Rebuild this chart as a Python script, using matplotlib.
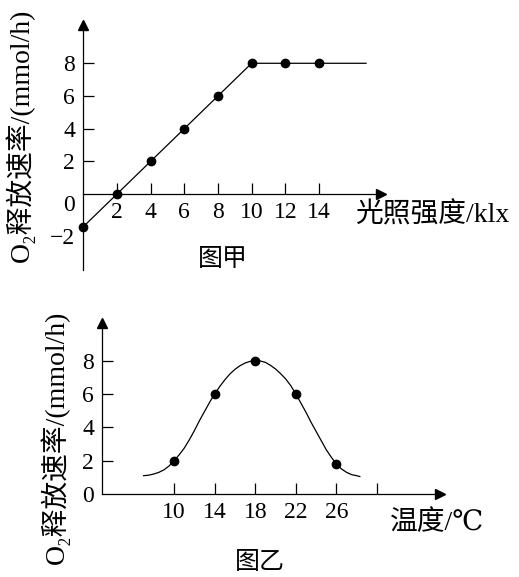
import matplotlib
matplotlib.use('Agg')
import matplotlib.pyplot as plt
from matplotlib.transforms import ScaledTranslation

plt.rcParams['font.family'] = ['Liberation Serif', 'DejaVu Serif', 'Noto Sans CJK SC']

# 图甲 数据
light = [0, 2, 4, 6, 8, 10, 12, 14]
o2_light = [-2, 0, 2, 4, 6, 8, 8, 8]
light_end = 16.8          # 平台线延伸到的位置
light_xticks = [2, 4, 6, 8, 10, 12, 14]
light_yticks = [-2, 0, 2, 4, 6, 8]
light_ylabels = ['\u22122', '0', '2', '4', '6', '8']

# 图乙 数据
temp = [10, 14, 18, 22, 26]
o2_temp = [2, 6, 8, 6, 1.8]
curve_x = [7, 7.5, 8, 8.5, 9, 9.5, 10, 10.5, 11, 11.5, 12, 12.5, 13, 13.5, 14, 14.5, 15, 15.5, 16, 16.5,
           17, 17.5, 18, 18.5, 19, 19.5, 20, 20.5, 21, 21.5, 22, 22.5, 23, 23.5, 24, 24.5, 25, 25.5,
           26, 26.5, 27, 27.5, 28, 28.3]
curve_y = [1.1, 1.13, 1.2, 1.3, 1.45, 1.68, 2.0, 2.35, 2.75, 3.25, 3.8, 4.4, 4.95, 5.5, 6.0, 6.45, 6.85, 7.2,
           7.48, 7.7, 7.86, 7.96, 8.0, 7.98, 7.9, 7.72, 7.5, 7.22, 6.9, 6.5, 6.0, 5.45, 4.9, 4.3, 3.75,
           3.2, 2.65, 2.2, 1.8, 1.5, 1.3, 1.16, 1.1, 1.05]
temp_xticks = [10, 14, 18, 22, 26, 30]
temp_xlabels = ['10', '14', '18', '22', '26', '']
temp_yticks = [0, 2, 4, 6, 8]

ylab = 'O\u2082释放速率/(mmol/h)'
fs = 17

fig = plt.figure(figsize=(5.19, 5.77), dpi=100)


def setup(ax):
    for s in ['top', 'right']:
        ax.spines[s].set_visible(False)
    ax.spines['bottom'].set_position(('data', 0))
    ax.spines['left'].set_linewidth(0.9)
    ax.spines['bottom'].set_linewidth(0.9)
    ax.tick_params(direction='in', length=8, width=0.9, labelsize=fs, pad=6)
    ax.plot(1, 0, marker='>', ms=7, color='k', transform=ax.get_yaxis_transform(), clip_on=False)
    ax.plot(0, 1, marker='^', ms=7, color='k', transform=ax.transAxes, clip_on=False)


# 图甲
ax1 = fig.add_axes([0.1605, 0.532, 0.574, 0.4246])
setup(ax1)
ax1.set_xlim(0, 17.7)
ax1.set_ylim(-4.65, 10.34)
ax1.plot(light + [light_end], o2_light + [o2_light[-1]], color='k', lw=0.9)
ax1.plot(light, o2_light, 'o', color='k', ms=6, clip_on=False, zorder=5)
ax1.set_xticks(light_xticks)
ax1.set_yticks(light_yticks)
ax1.set_yticklabels(light_ylabels)
for t in ax1.yaxis.get_major_ticks()[:2]:
    t.tick1line.set_visible(False)
for lab in ax1.get_yticklabels()[:2]:
    lab.set_transform(lab.get_transform() + ScaledTranslation(0, -0.09, fig.dpi_scale_trans))
fig.text(355 / 519, 1 - 215 / 577, '光照强度/klx', fontsize=20, va='center', ha='left')
fig.text(223 / 519, 1 - 260 / 577, '图甲', fontsize=18, va='center', ha='center')
fig.text(20 / 519, 1 - 135 / 577, ylab, fontsize=20, rotation=90, va='center', ha='center')

# 图乙
ax2 = fig.add_axes([0.1971, 0.1438, 0.6507, 0.2964])
setup(ax2)
ax2.set_xlim(2.93, 36.2)
ax2.set_ylim(0, 10.26)
ax2.plot(curve_x, curve_y, color='k', lw=0.9)
ax2.plot(temp, o2_temp, 'o', color='k', ms=6, clip_on=False, zorder=5)
ax2.set_xticks(temp_xticks)
ax2.set_xticklabels(temp_xlabels)
ax2.set_yticks(temp_yticks)
ax2.yaxis.get_major_ticks()[0].tick1line.set_visible(False)
fig.text(390 / 519, 1 - 523 / 577, '温度/℃', fontsize=20, va='center', ha='left')
fig.text(260 / 519, 1 - 563 / 577, '图乙', fontsize=18, va='center', ha='center')
fig.text(55 / 519, 1 - 437 / 577, ylab, fontsize=20, rotation=90, va='center', ha='center')

fig.savefig('out.png', dpi=100)
